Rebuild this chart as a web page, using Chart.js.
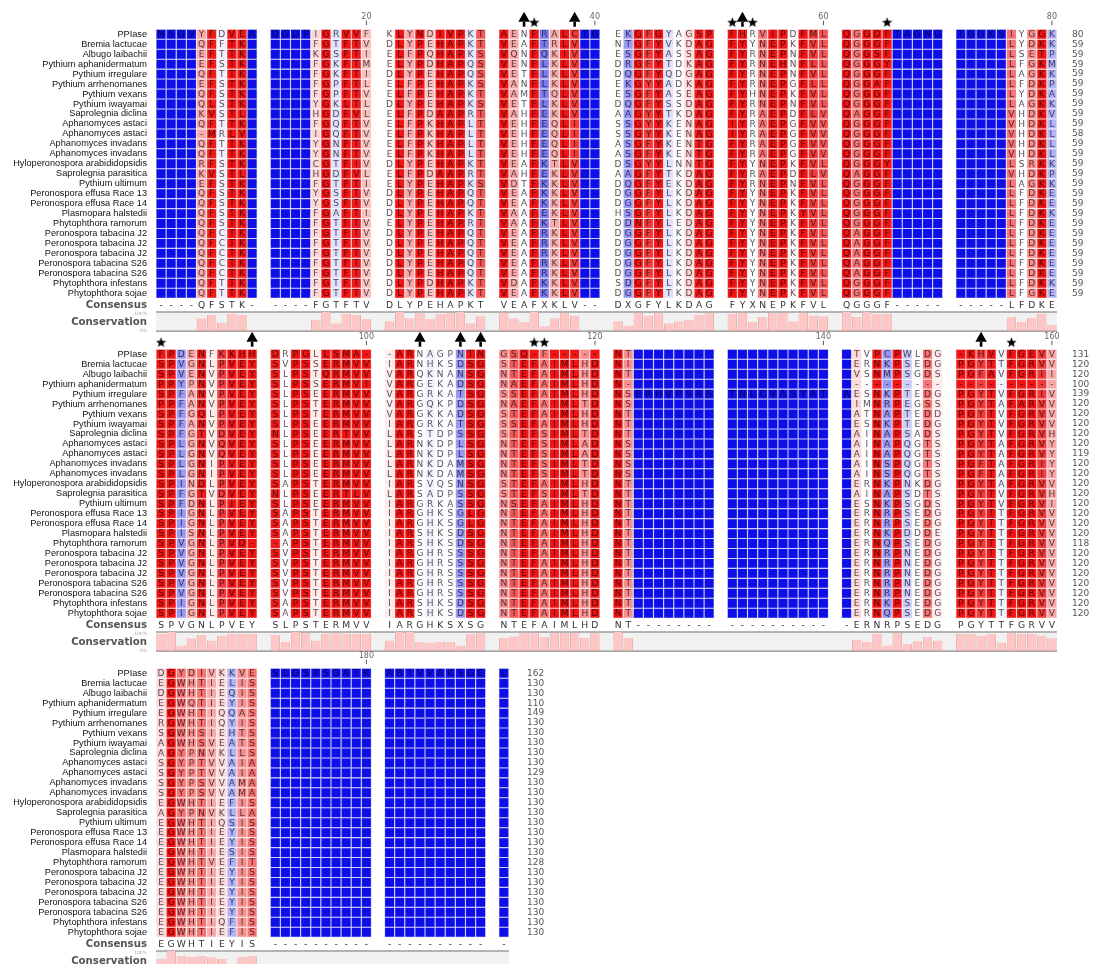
<!DOCTYPE html>
<html>
<head>
<meta charset="utf-8">
<script src="https://cdn.jsdelivr.net/npm/chart.js@4.4.1/dist/chart.umd.min.js"></script>
<style>
  html, body { margin: 0; padding: 0; background: #fff; }
  body { width: 1099px; height: 964px; overflow: hidden; position: relative; }
  canvas { position: absolute; left: 0; }
</style>
</head>
<body>
<canvas id="block1" style="top:0px"></canvas>
<canvas id="block2" style="top:320px"></canvas>
<canvas id="block3" style="top:639px"></canvas>
<script>
// Sequence names, top to bottom (same order in every block)
const rowNames = [
  'PPIase', 'Bremia lactucae', 'Albugo laibachii', 'Pythium aphanidermatum', 'Pythium irregulare',
  'Pythium arrhenomanes', 'Pythium vexans', 'Pythium iwayamai', 'Saprolegnia diclina',
  'Aphanomyces astaci', 'Aphanomyces astaci', 'Aphanomyces invadans', 'Aphanomyces invadans',
  'Hyloperonospora arabididopsidis', 'Saprolegnia parasitica', 'Pythium ultimum',
  'Peronospora effusa Race 13', 'Peronospora effusa Race 14', 'Plasmopara halstedii',
  'Phytophthora ramorum', 'Peronospora tabacina J2', 'Peronospora tabacina J2',
  'Peronospora tabacina J2', 'Peronospora tabacina S26', 'Peronospora tabacina S26',
  'Phytophthora infestans', 'Phytophthora sojae'
];

// Alignment columns 1-80
const block1Seqs = [
  'MSQVYFDVEA DGDPIGRVVF KLYNDIVPKT AENFRALCTG EKGFGYAGSP FHRVIPDFML QGGDFTAGNG TGGKSIYGGK',
  '----QFFTK- ----FGTFTV DLYPEHAPKT VEAFTRLV-- NTGFYVKDAG FYYNEPKFVL QGGGF----- -----LYDKK',
  '----EFTTK- ----KGSFTI ELFPQHAPKS VQNFQKIV-- ESGFYASSAG FYRNEPNFVL QGGSF----- -----LSETP',
  '----EFSTK- ----FGKFTM ELYPDHAPQS VENFLKLV-- DRGFYTDKAG FYRNEHNFLL QGGGY----- -----LFGKM',
  '----QFTTK- ----FGKFTI DLYPEHAPQS VETFLKLV-- DQGFYQDGAG FYRNEPNFVL QGGGF----- -----LAGKK',
  '----EFSTK- ----FGPFTL ELFPEHAPKS VANFLKLV-- EKGYYADKAG FYRNEPGFLL QGGAF----- -----LFDKP',
  '----QFSTK- ----FGPFTV ELFPEHAPKT VAMFTQLV-- ESGFYASEAG FYHNEPKFVL QGGGF----- -----LYDKA',
  '----QLSTK- ----YGKLTL DLYPEHAPKS VETFLKLV-- DQGFYSSDAG FYRNEPNFVL QGGGF----- -----LAGKK',
  '----KVSTL- ----HGDFVL ELFPDAAPRT VAHFEKLV-- AAGYYTKDAG FYRAEPDFLV QAGGF----- -----VHDKV',
  '----QFTTK- ----FGQFTV ELFPKHAPLT VEHFEQLI-- SSGYYKENAG IYRAEPGFVV QGGGF----- -----VHDKL',
  '-----MRLV- ----IGQFTV ELFPKHAPLT VEHFEQLI-- SSGYYKENAG IYRAEPGFVV QGGGF----- -----VHDKL',
  '----QFTTK- ----YGNFTV ELFPKHAPLT VEHFEQLI-- ASGFYKENTG FYRAEPGFVV QGGGF----- -----VHDKL',
  '----QFTTK- ----YGNFTV ELFPKHAPLT VEHFEQLI-- ASGFYKENTG FYRAEPGFVV QGGGF----- -----VHDKL',
  '----RFSTK- ----CGTFIV DLYPEHAPKT VEAFKTLV-- DSGYYLNNTG FYYNEPKFVL QGGGY----- -----LSRKK',
  '----KVSTL- ----HGDFVL ELFPDAAPRT VAHFEKLV-- AAGFYTKDAG FYRAEPDFLV QAGGF----- -----VHDKP',
  '----EFSTK- ----FGTFTI ELYPEHAPKS VDTFKKLV-- DQGFYEKDAG FYRNEPNFVL QGGGF----- -----LAGKK',
  '----QFSTK- ----YGSFTV DLYPEHAPQT VEAFKKLV-- DGGFYLKDAG FYYNEPKFVL QGGGF----- -----LFDKE',
  '----QFSTK- ----YGSFTV DLYPEHAPQT VEAFKKLV-- DGGFYLKDAG FYYNEPKFVL QGGGF----- -----LFDKE',
  '----QFSTK- ----FGAFTI DLYPEHAPKT VAAFEKLV-- HSGFYLKDAG FYYNEPKYVL QGGGF----- -----LFDKK',
  '----QFSTK- ----FGTFTV ELYPEHAPRT VAAFKTLV-- DDNFYLEDAG FYYNEPKFVL QGGGF----- -----LFDKE',
  '----QFCTK- ----FGTFTV DLYPEHAPQT VEAFRKLV-- DGGFYLKDAG FYYNEPKFVL QAGGF----- -----LFDKE',
  '----QFCTK- ----FGTFTV DLYPEHAPQT VEAFRKLV-- DGGFYLKDAG FYYNEPKFVL QAGGF----- -----LFDKE',
  '----QFCTK- ----FGTFTV DLYPEHAPQT VEAFRKLV-- DGGFYLKDAG FYYNEPKFVL QAGGF----- -----LFDKE',
  '----QFCTK- ----FGTFTV DLYPEHAPQT VEAFRKLV-- DGGFYLKDAG FYYNEPKFVL QAGGF----- -----LFDKE',
  '----QFCTK- ----FGTFTV DLYPEHAPQT VEAFRKLV-- DGGFYLKDAG FYYNEPKFVL QAGGF----- -----LFDKE',
  '----QFTTK- ----FGTFTV DLYPDHAPKT VDAFKKLV-- SDGFYLKDAG FYYNEPKFVL QGGGF----- -----LFDKK',
  '----QFTTK- ----FGTFTV DLYPEHAPKT VEAFKKLV-- DGGFYTKDAG FYYNEPKFVL QGGGF----- -----LFGKE'
];
const block1Consensus = '----QFSTK- ----FGTFTV DLYPEHAPKT VEAFXKLV-- DXGFYLKDAG FYXNEPKFVL QGGGF----- -----LFDKE';
const block1Counts = [80, 59, 59, 59, 59, 59, 59, 59, 59, 59, 58, 59, 59, 59, 59, 59, 59, 59, 59, 59, 59, 59, 59, 59, 59, 59, 59];
const block1Ticks = [20, 40, 60, 80];
const block1Arrows = [33, 38, 52];
const block1Stars = [34, 51, 53, 65];

// Alignment columns 81-160
const block2Seqs = [
  'FPDENFKKHH DRPGLLSMA- -ARNAGPNTN GSQ-F----- NT-------- ---------- -TVPCPWLDG -KHVVFGEVV',
  'SPVGNLPVEY SVPSSERMVV IARNHKSDSG STEFAIMLHD NI-------- ---------- -ERNKPSEDG PGYTTFGRVV',
  'SPVENVPVEY SLPSTQRMVV VARQKNANSG NTEFAIMLHD NT-------- ---------- -VSNMPSGDS PGFAVFGRII',
  'PPYPNVPVEY SLPSSERMVI VARGEKADSG NAEFAIMLHD N--------- ---------- ---------- ----------',
  'SPFANVPVEY SLPSEERMVV VARGRKATSG SSEFAIMLHD NSERHVPSRS TNLCVASYAT AESNKPTEDG PGYTVFGRIV',
  'PPFANVPVEY SLPSTERMVV VARGQKPDSG NAEFAIMLTD NS-------- ---------- -IMNRPEGSS PGYTAFARVV',
  'SPFGQLPVEY SLPSTERMVV VARGKKADSG STEFAIMLHD NT-------- ---------- -ATNAPTEDD PGYTVFGRVV',
  'SPFANVPVEY SLPSEERMVV IARGRKATSG SSEFAIMLHD NT-------- ---------- -ESNKPTEDG PGYTVFGRVV',
  'SPFGTVDVEY NLPSEERTVV LARSTDPSSG STEFSIMLTD NT-------- ---------- -AINAPSADS PGYTVFGRVH',
  'SPLGNVQVEY SLPSEERMVV LARNKDPLSG NTEFSIMLAD NS-------- ---------- -AINAPQGTS PGYTAFGRVY',
  'SPLGNVQVEY SLPSEERMVV LARNKDPLSG NTEFSIMLAD NS-------- ---------- -AINAPQGTS PGYTAFGRVY',
  'SPLGNIPVEY SLPSEERMVV LARNKDAMSG NTEFSIMLTD NS-------- ---------- -AINSPQGTS PGFTAFGRIY',
  'SPLGNIPVEY SLPSEERMVV LARNKDAMSG NTEFSIMLTD NS-------- ---------- -AINSPQGTS PGFTAFGRIY',
  'SPINDLPVEY SAPSTERMVV IARSVQSNSG STEFAIMLHD NT-------- ---------- -ERNKPNKDG PGYTAFGRVV',
  'SPFGTVDVEY NLPSEERTLV LARSADPSSG STEFSIMLTD NT-------- ---------- -AINAPSDTS PGYTVFGRVH',
  'SPFDNLPIEY SLPSEERMVV IARGRKASSG NSEFAIMLHD NT-------- ---------- -ESNKPSGDS PGYTVFGRVI',
  'SPIGNLPVEY SAPSTERMVV IARGHKSGLG NTEFAIMLHD NT-------- ---------- -ERNRPSEDG PGYTTFGRVV',
  'SPIGNLPVEY SAPSTERMVV IARGHKSGLG NTEFAIMLHD NT-------- ---------- -ERNRPSEDG PGYTTFGRVV',
  'SPISNLPVEY SAPSTERMVV IARSHKSDSG NTEFAIMLHD NT-------- ---------- -ERNKPDDDE PGYTTFGRVV',
  'SPVGNLPVD- -APSTERMVV IARSHKSDSG NTEFAIMLHD NT-------- ---------- -ERNQPSEDG PGYTTFGRVV',
  'SPVGNLPVEY SVPSTERMVV IARGHRSSSG NTEFAIMLHD NT-------- ---------- -ERNRPNEDG PGYTTFGRVV',
  'SPVGNLPVEY SVPSTERMVV IARGHRSSSG NTEFAIMLHD NT-------- ---------- -ERNRPNEDG PGYTTFGRVV',
  'SPVGNLPVEY SVPSTERMVV IARGHRSSSG NTEFAIMLHD NT-------- ---------- -ERNRPNEDG PGYTTFGRVV',
  'SPVGNLPVEY SVPSTERMVV IARGHRSSSG NTEFAIMLHD NT-------- ---------- -ERNRPNEDG PGYTTFGRVV',
  'SPVGNLPVEY SVPSTERMVV IARGHRSSSG NTEFAIMLHD NT-------- ---------- -ERNRPNEDG PGYTTFGRVV',
  'SPIGNLPVEY SAPSTERMVV IARSHKSDSG NTEFAIMLHD NT-------- ---------- -ERNKPSEDG PGYTTFGRVV',
  'SPIGNLPVEY SAPSTERMVV IARSHKSDSG NTEFAIMLHD NT-------- ---------- -ERNQPSEDG PGYTTFGRVV'
];
const block2Consensus = 'SPVGNLPVEY SLPSTERMVV IARGHKSXSG NTEFAIMLHD NT-------- ---------- -ERNRPSEDG PGYTTFGRVV';
const block2Counts = [131, 120, 120, 100, 139, 120, 120, 120, 120, 120, 119, 120, 120, 120, 120, 120, 120, 120, 120, 118, 120, 120, 120, 120, 120, 120, 120];
const block2Ticks = [100, 120, 140, 160];
const block2Arrows = [90, 104, 108, 110, 153];
const block2Stars = [81, 114, 115, 156];

// Alignment columns 161-191
const block3Seqs = [
  'DGYDIVKKVE SLGSPSGATK ARIVVAKSGE L',
  'EGWHTIELIS ---------- ---------- -',
  'DGWHTIEQIS ---------- ---------- -',
  'EGWQTIEYIS ---------- ---------- -',
  'EGWHTIQQAS ---------- ---------- -',
  'RGWHTIQYIS ---------- ---------- -',
  'SGWHSIEHTS ---------- ---------- -',
  'AGWHSVEATS ---------- ---------- -',
  'AGYPNVKLLS ---------- ---------- -',
  'SGYPTVVAIA ---------- ---------- -',
  'SGYPTVVAIA ---------- ---------- -',
  'SGYPSVVAMA ---------- ---------- -',
  'SGYPSVVAMA ---------- ---------- -',
  'EGWHTIEFIS ---------- ---------- -',
  'AGYPNVKLLA ---------- ---------- -',
  'EGWHTIQSIS ---------- ---------- -',
  'EGWHTIEYIS ---------- ---------- -',
  'EGWHTIEYIS ---------- ---------- -',
  'EGWHTIESIS ---------- ---------- -',
  'EGWHTVEFIT ---------- ---------- -',
  'EGWHTIEYIS ---------- ---------- -',
  'EGWHTIEYIS ---------- ---------- -',
  'EGWHTIEYIS ---------- ---------- -',
  'EGWHTIEYIS ---------- ---------- -',
  'EGWHTIEYIS ---------- ---------- -',
  'EGWHTIQFIS ---------- ---------- -',
  'EGWHTIEFIS ---------- ---------- -'
];
const block3Consensus = 'EGWHTIEYIS ---------- ---------- -';
const block3Counts = [162, 130, 130, 110, 149, 130, 130, 130, 130, 130, 129, 130, 130, 130, 130, 130, 130, 130, 130, 128, 130, 130, 130, 130, 130, 130, 130];
const block3Ticks = [180];

// ---- layout constants ----
const COL_PX = 10.12;      // width of one residue column
const GROUP_GAP = 1.29;    // extra space after every ten columns, in column widths
const ROW_PX = 9.96;
const ROW_TOP = 29.3;      // pixel of the first row's top edge inside each canvas
const LEFT_W = 156;
const RIGHT_W = 42;
const CANVAS_H = 336;
const CONSENSUS_Y = 27.72;
const PANEL_TOP = 28.38, PANEL_BOTTOM = 30.3;
const RULER_LABEL_Y = -1.2, RULER_TICK_Y = -0.64;
const ARROW_Y = -1.1, STEM_Y = -0.5, STAR_Y = -0.72;

const RED = [240, 20, 20], BLUE = [14, 14, 232], WHITE = [255, 255, 255], BLACK = [0, 0, 0];

const colPos = i => i + Math.floor(i / 10) * GROUP_GAP;
const mix = (a, b, t) => a.map((v, k) => Math.round(v + (b[k] - v) * t));
const rgb = c => `rgb(${c[0]},${c[1]},${c[2]})`;

// share of sequences carrying the most common residue in a column
function columnConservation(seqs, i) {
  const counts = {};
  let best = 0;
  seqs.forEach(s => {
    const c = s[i];
    if (c === '-') return;
    counts[c] = (counts[c] || 0) + 1;
    best = Math.max(best, counts[c]);
  });
  return best / seqs.length;
}

// blue (low) -> white -> red (high)
function cellRGB(f) {
  if (f >= 0.5) return mix(WHITE, RED, Math.pow(Math.min(1, (f - 0.5) / 0.36), 1.3));
  return mix(WHITE, BLUE, Math.pow(Math.min(1, (0.5 - f) / 0.36), 1.5));
}

// filled star used as a point style
const starImg = document.createElement('canvas');
starImg.width = 11; starImg.height = 11;
(function () {
  const s = starImg.getContext('2d');
  s.beginPath();
  for (let k = 0; k < 10; k++) {
    const r = k % 2 ? 2.3 : 5.4;
    const a = -Math.PI / 2 + k * Math.PI / 5;
    s.lineTo(5.5 + r * Math.cos(a), 6 + r * Math.sin(a));
  }
  s.closePath();
  s.fillStyle = '#000';
  s.fill();
})();

const sideLabels = rowNames.concat(['Consensus', '100%', 'Conservation', '0%']);
const sideValues = rowNames.map((_, r) => r + 0.5).concat([27.72, 28.55, 29.4, 30.25]);
const labelKind = i => {
  if (i === undefined || i < rowNames.length) return 'name';
  return String(sideLabels[i] || '').indexOf('%') >= 0 ? 'pct' : 'title';
};
const noPadding = s => { s.paddingTop = 0; s.paddingBottom = 0; s.paddingLeft = 0; s.paddingRight = 0; };

function drawBlock(id, seqRows, consensusRow, endCounts, firstCol, tickCols, arrowCols, starCols, numPad) {
  const seqs = seqRows.map(s => s.replace(/ /g, ''));
  const consensus = consensusRow.replace(/ /g, '');
  const nCols = seqs[0].length;
  const cons = [];
  for (let i = 0; i < nCols; i++) cons.push(columnConservation(seqs, i));

  const xMax = colPos(nCols - 1) + 0.5;
  const canvas = document.getElementById(id);
  canvas.width = Math.round(LEFT_W + (xMax + 0.5) * COL_PX + RIGHT_W);
  canvas.height = CANVAS_H;

  const cells = [];
  seqs.forEach((s, r) => {
    for (let i = 0; i < nCols; i++) {
      cells.push({ x: colPos(i), y: [r, r + 1], res: s[i], f: cons[i] });
    }
  });
  const consBars = cons.map((f, i) => ({
    x: colPos(i), y: [PANEL_BOTTOM - f * (PANEL_BOTTOM - PANEL_TOP), PANEL_BOTTOM]
  }));
  const at = (cols, y) => cols.map(c => ({ x: colPos(c - firstCol), y: y }));

  const overlay = {
    id: 'alignmentOverlay',
    beforeDatasetsDraw(chart) {
      const { ctx, chartArea, scales: { y } } = chart;
      const top = y.getPixelForValue(PANEL_TOP), bottom = y.getPixelForValue(PANEL_BOTTOM);
      ctx.save();
      ctx.fillStyle = '#f1f1f1';
      ctx.fillRect(chartArea.left, top, chartArea.right - chartArea.left, bottom - top);
      ctx.strokeStyle = '#9c9c9c';
      ctx.lineWidth = 1.6;
      ctx.beginPath(); ctx.moveTo(chartArea.left, top); ctx.lineTo(chartArea.right, top); ctx.stroke();
      ctx.strokeStyle = '#8a8a8a';
      ctx.lineWidth = 1.2;
      ctx.beginPath(); ctx.moveTo(chartArea.left, bottom); ctx.lineTo(chartArea.right, bottom); ctx.stroke();
      ctx.restore();
    },
    afterDatasetsDraw(chart) {
      const { ctx, scales: { x, y } } = chart;
      ctx.save();
      ctx.textAlign = 'center';
      ctx.textBaseline = 'middle';
      // residue letters inside the cells
      ctx.font = '9px "DejaVu Sans"';
      const data = chart.data.datasets[0].data;
      chart.getDatasetMeta(0).data.forEach((el, k) => {
        const d = data[k];
        if (d.res === '-' && d.f < 0.15) return;
        ctx.fillStyle = rgb(mix(cellRGB(d.f), BLACK, 0.66));
        ctx.fillText(d.res, el.x, (el.y + el.base) / 2 + 0.5);
      });
      // consensus line
      ctx.font = '9.2px "DejaVu Sans"';
      ctx.fillStyle = '#333';
      const cy = y.getPixelForValue(CONSENSUS_Y);
      for (let i = 0; i < consensus.length; i++) {
        ctx.fillText(consensus[i], x.getPixelForValue(colPos(i)), cy);
      }
      // ruler numbers
      ctx.font = '8px "DejaVu Sans"';
      ctx.fillStyle = '#666';
      tickCols.forEach(c => {
        ctx.fillText(String(c), x.getPixelForValue(colPos(c - firstCol)), y.getPixelForValue(RULER_LABEL_Y));
      });
      ctx.restore();
    }
  };

  const chart = new Chart(canvas, {
    type: 'bar',
    data: {
      datasets: [
        {
          data: cells, yAxisID: 'y', grouped: false, barPercentage: 1, categoryPercentage: 1,
          backgroundColor: c => c.raw ? rgb(cellRGB(c.raw.f)) : '#fff',
          borderColor: c => c.raw ? rgb(mix(cellRGB(c.raw.f), WHITE, 0.55)) : '#fff',
          borderWidth: 0.55, borderSkipped: false, inflateAmount: 0, clip: false
        },
        {
          data: consBars, yAxisID: 'y', grouped: false, barPercentage: 0.92, categoryPercentage: 1,
          backgroundColor: '#ffc6c6', borderColor: '#e29a9a', borderWidth: 0.8,
          borderSkipped: 'bottom', inflateAmount: 0, clip: false
        },
        {
          type: 'scatter', data: at(tickCols, RULER_TICK_Y), yAxisID: 'y', clip: false,
          pointStyle: 'line', pointRotation: 90, pointRadius: 2.2,
          pointBorderColor: '#555', pointBorderWidth: 1
        },
        {
          type: 'scatter', data: at(arrowCols || [], ARROW_Y), yAxisID: 'y', clip: false,
          pointStyle: 'triangle', pointRadius: 6.6,
          pointBackgroundColor: '#000', pointBorderColor: '#000', pointBorderWidth: 0
        },
        {
          type: 'scatter', data: at(arrowCols || [], STEM_Y), yAxisID: 'y', clip: false,
          pointStyle: 'line', pointRotation: 90, pointRadius: 2.4,
          pointBorderColor: '#000', pointBorderWidth: 2.6
        },
        {
          type: 'scatter', data: at(starCols || [], STAR_Y), yAxisID: 'y', clip: false,
          pointStyle: starImg
        }
      ]
    },
    plugins: [overlay],
    options: {
      responsive: false,
      animation: false,
      events: [],
      devicePixelRatio: 1,
      layout: { padding: 0, autoPadding: false },
      plugins: { legend: { display: false }, tooltip: { enabled: false } },
      scales: {
        y: {
          type: 'linear', position: 'left', reverse: true, min: -3, max: 31,
          afterBuildTicks: s => { s.ticks = sideValues.map(v => ({ value: v })); },
          afterFit: s => { s.width = LEFT_W; noPadding(s); },
          ticks: {
            autoSkip: false, padding: 9,
            callback: (v, i) => sideLabels[i],
            font: c => {
              const k = labelKind(c.index);
              if (k === 'name') return { family: 'Liberation Sans', size: 9.2 };
              if (k === 'pct') return { family: 'DejaVu Sans', size: 4.5 };
              return { family: 'DejaVu Sans', size: 10.2, weight: 'bold' };
            },
            color: c => {
              const k = labelKind(c.index);
              return k === 'name' ? '#111' : (k === 'pct' ? '#aaa' : '#555');
            }
          },
          grid: { display: false, drawTicks: false },
          border: { display: false }
        },
        y2: {
          type: 'linear', position: 'right', reverse: true, min: -3, max: 31,
          afterBuildTicks: s => { s.ticks = endCounts.map((_, r) => ({ value: r + 0.5 })); },
          afterFit: s => { s.width = RIGHT_W; noPadding(s); },
          ticks: {
            autoSkip: false, padding: numPad,
            callback: (v, i) => String(endCounts[i]),
            font: { family: 'DejaVu Sans', size: 9 }, color: '#555'
          },
          grid: { display: false, drawTicks: false },
          border: { display: false }
        },
        x: {
          type: 'linear', display: false, offset: false, min: -0.5, max: xMax
        }
      }
    }
  });

  // pin the scales so one row / one column has the same pixel size in every block
  const a = chart.chartArea;
  const sc = chart.options.scales;
  sc.y.min = sc.y2.min = (a.top - ROW_TOP) / ROW_PX;
  sc.y.max = sc.y2.max = (a.bottom - ROW_TOP) / ROW_PX;
  sc.x.min = (a.left - LEFT_W) / COL_PX - 0.5;
  sc.x.max = sc.x.min + (a.right - a.left) / COL_PX;
  chart.update();
  return chart;
}

drawBlock('block1', block1Seqs, block1Consensus, block1Counts, 1, block1Ticks, block1Arrows, block1Stars, 15);
drawBlock('block2', block2Seqs, block2Consensus, block2Counts, 81, block2Ticks, block2Arrows, block2Stars, 15);
drawBlock('block3', block3Seqs, block3Consensus, block3Counts, 161, block3Ticks, [], [], 18);
</script>
</body>
</html>
